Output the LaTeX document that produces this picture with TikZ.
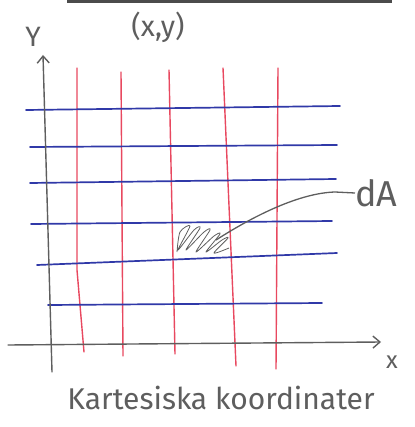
\documentclass[tikz,border=0pt]{standalone}
\usepackage{fontspec}
\setmainfont{Fira Sans}
\usetikzlibrary{arrows.meta}
\definecolor{pencil}{HTML}{5E5E5E}
\definecolor{redpen}{HTML}{E8485F}
\definecolor{bluepen}{HTML}{3039A8}
\begin{document}
\begin{tikzpicture}[x=1pt,y=-1pt,
  axis/.style={pencil,line width=1.4pt,line cap=round},
  vline/.style={redpen,line width=1.4pt,line cap=round},
  hline/.style={bluepen,line width=1.7pt,line cap=round},
  lbl/.style={text=pencil,inner sep=0pt},
  tip/.style={-{Straight Barb[length=7pt,width=12pt]}}]
\useasboundingbox (0,0) rectangle (414,427);
% top stroke
\draw[pencil!80!black,line width=3.5pt] (67,1.5) -- (392,1.5);
% red vertical lines
\draw[vline] (77,68) -- (77,270) -- (84,352);
\draw[vline] (121,72) -- (123,356);
\draw[vline] (169,70) -- (175,354);
\draw[vline] (223,68) -- (236,366);
\draw[vline] (278,68) -- (276,369);
% blue horizontal lines
\draw[hline] (26,110) -- (340,106);
\draw[hline] (30,147) -- (337,145);
\draw[hline] (30,183) -- (336,179);
\draw[hline] (31,224) -- (332,221);
\draw[hline] (37,265) -- (337,253);
\draw[hline] (48,305) -- (322,303);
% axes
\coordinate (yb) at (52,372);
\coordinate (yt) at (43,55);
\coordinate (xl) at (8,345);
\coordinate (xr) at (381,342);
\draw[axis,tip] (yb) -- (yt);
\draw[axis,tip] (xl) -- (xr);
% labels
\node[lbl,font=\fontsize{28}{28}\selectfont] (ylab) at (33,37) {Y};
\node[lbl,font=\fontsize{24}{24}\selectfont] (xlab) at (392,362) {x};
\node[lbl,font=\fontsize{29}{29}\selectfont] (pt) at (158,27) {(x,y)};
\node[lbl,font=\fontsize{36}{36}\selectfont,anchor=west] (dA) at (355,193) {dA};
\node[lbl,font=\fontsize{30}{30}\selectfont] (cap) at (221,398) {Kartesiska koordinater};
% hatched area element
\coordinate (h0) at (216,240);
\draw[pencil,line width=0.8pt,line join=round]
  plot[smooth,tension=0.5] coordinates {(177,252) (180,232) (190,226) (178,250)
  (194,230) (200,228) (186,250) (204,232) (210,230) (196,252) (214,236) (220,234)
  (206,252) (222,240) (228,238) (214,253) (229,248)};
% leader to dA
\draw[pencil,line width=1.3pt] (h0) .. controls (255,215) and (300,193) .. (335,192) -- (dA.west);
\end{tikzpicture}
\end{document}
